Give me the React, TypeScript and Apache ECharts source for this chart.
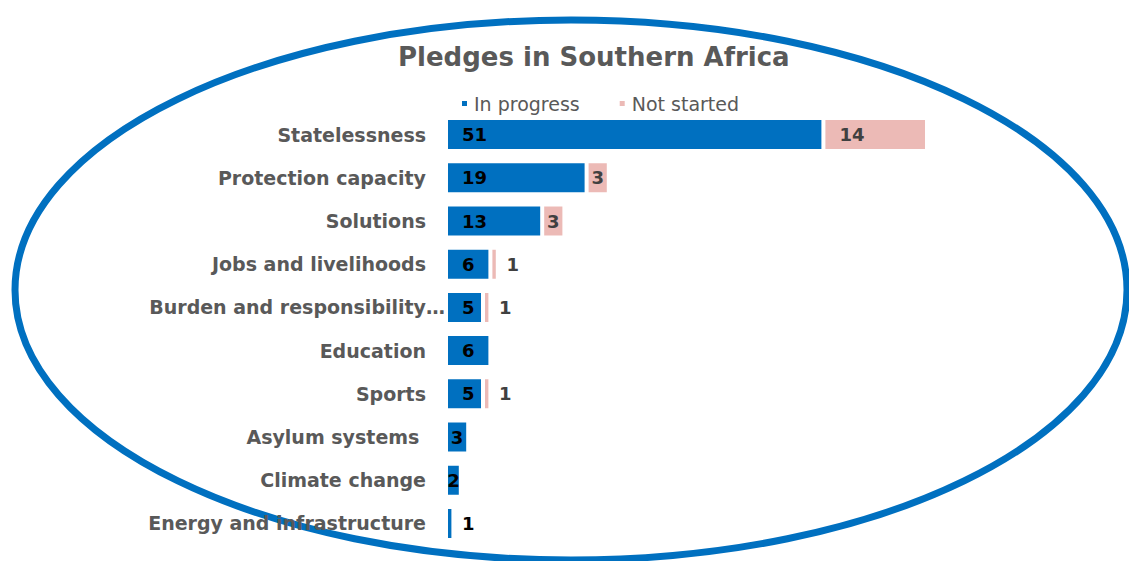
import React, { useEffect, useRef } from "react";
import * as echarts from "echarts";

const categories = [
  "Statelessness",
  "Protection capacity",
  "Solutions",
  "Jobs and livelihoods",
  "Burden and responsibility…",
  "Education",
  "Sports",
  "Asylum systems ",
  "Climate change",
  "Energy and infrastructure",
];
const inProgress = [51, 19, 13, 6, 5, 6, 5, 3, 2, 1];
const notStarted = [14, 3, 3, 1, 1, 0, 1, 0, 0, 0];
const seriesNames = ["In progress", "Not started"];
const titleText = "Pledges in Southern Africa";

const BLUE = "#0070C0";
const PINK = "#ECBAB6";
const GREY = "#595959";
const FONT = "DejaVu Sans";

export default function App() {
  const ref = useRef<HTMLDivElement>(null);
  useEffect(() => {
    if (!ref.current) return;
    const chart = echarts.init(ref.current, null, { renderer: "svg" });
    const smallLabel = (v: number) =>
      v >= 2 && v <= 3 ? { position: "inside" as const } : undefined;
    chart.setOption({
      animation: false,
      backgroundColor: "#ffffff",
      textStyle: { fontFamily: FONT },
      title: {
        text: titleText,
        left: 398,
        top: 44,
        padding: 0,
        textStyle: { fontFamily: FONT, fontSize: 26, fontWeight: "bold", color: GREY },
      },
      legend: {
        data: seriesNames,
        left: 460,
        top: 94,
        padding: 0,
        icon: "rect",
        itemWidth: 7,
        itemHeight: 7,
        itemGap: 38,
        textStyle: { fontFamily: FONT, fontSize: 19, color: GREY, padding: [0, 0, 0, 1] },
      },
      grid: { left: 446, top: 113, height: 432, right: 1129 - 446 - 70 * 7.4 },
      xAxis: {
        type: "value",
        min: 0,
        max: 70,
        show: false,
        splitLine: { show: false },
      },
      yAxis: {
        type: "category",
        inverse: true,
        z: 10,
        data: categories.map((c, i) =>
          i === 4 ? { value: c, textStyle: { padding: [0, -19, 0, 0] } } : c
        ),
        axisLine: { show: false },
        axisTick: { show: false },
        axisLabel: {
          margin: 20,
          fontFamily: FONT,
          fontSize: 19,
          fontWeight: "bold",
          color: GREY,
        },
      },
      series: [
        {
          name: seriesNames[0],
          type: "bar",
          stack: "total",
          barWidth: 33,
          itemStyle: { color: BLUE, borderColor: "#ffffff", borderWidth: 2 },
          label: {
            show: true,
            position: "insideLeft",
            distance: 16,
            fontFamily: FONT,
            fontSize: 18,
            fontWeight: "bold",
            color: "#000000",
          },
          data: inProgress.map((v) => ({ value: v, label: smallLabel(v) })),
        },
        {
          name: seriesNames[1],
          type: "bar",
          stack: "total",
          barWidth: 33,
          itemStyle: { color: PINK, borderColor: "#ffffff", borderWidth: 2 },
          label: {
            show: true,
            position: "insideLeft",
            distance: 16,
            fontFamily: FONT,
            fontSize: 18,
            fontWeight: "bold",
            color: "#404040",
            formatter: (p: any) => (p.value ? String(p.value) : ""),
          },
          data: notStarted.map((v) =>
            v ? { value: v, label: smallLabel(v) } : { value: null }
          ),
        },
      ],
      graphic: [
        {
          type: "ellipse",
          z: 1,
          shape: { cx: 571, cy: 290, rx: 556, ry: 270 },
          style: { fill: "none", stroke: BLUE, lineWidth: 7 },
          silent: true,
        },
      ],
    });
    return () => chart.dispose();
  }, []);
  return (
    <div
      ref={ref}
      style={{ position: "fixed", left: 0, top: 0, width: 1129, height: 561 }}
    />
  );
}
